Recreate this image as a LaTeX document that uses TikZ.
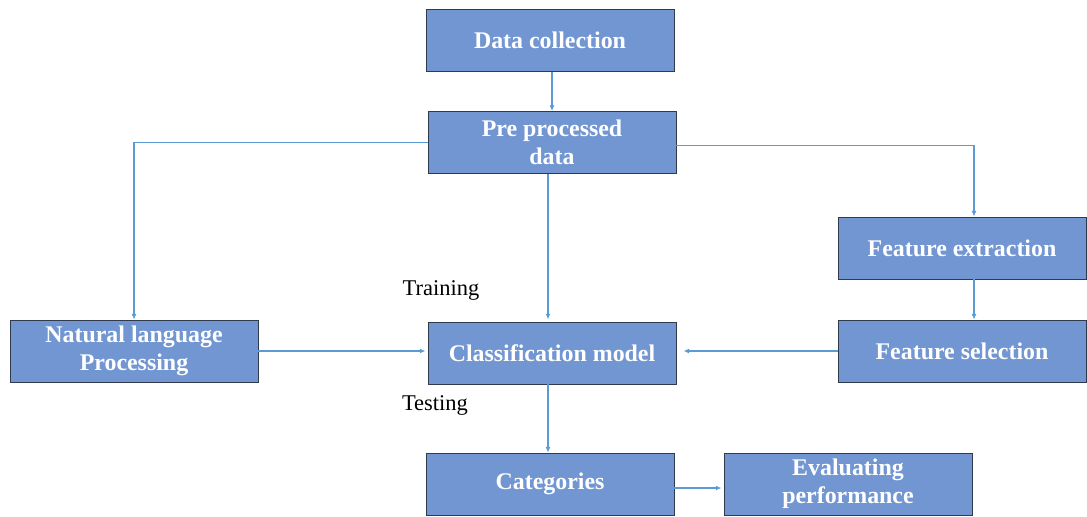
\documentclass[tikz,border=0pt]{standalone}
\usepackage{fontspec}
\setmainfont{Liberation Serif}
\usepackage{xcolor}
\usetikzlibrary{arrows.meta, positioning}
\definecolor{stageblue}{HTML}{7296D2}
\definecolor{flowblue}{HTML}{5B9BD5}
\definecolor{edgegray}{HTML}{2F3B4C}

\begin{document}
\begin{tikzpicture}[
  stagebox/.style={rectangle, draw=edgegray, line width=0.6pt, fill=stageblue, minimum width=6.2cm, minimum height=1.55cm, text=white, font=\fontsize{17}{20}\selectfont\bfseries, align=center, inner sep=0pt},
  flow/.style={-{Latex[length=4pt,width=3.5pt]}, flowblue, line width=0.8pt, shorten >=1.5pt},
  phase/.style={font=\fontsize{16}{19}\selectfont, text=black}
]
\useasboundingbox (0,0) rectangle (27.175,-12.9);
\node[stagebox] (collect) at (13.75,-1.0125) {Data collection};
\node[stagebox] (prep) at (13.8,-3.5625) {Pre processed\\data};
\node[stagebox] (extract) at (24.05,-6.2) {Feature extraction};
\node[stagebox] (select) at (24.05,-8.775) {Feature selection};
\node[stagebox] (nlp) at (3.35,-8.775) {Natural language\\Processing};
\node[stagebox] (classify) at (13.8,-8.825) {Classification model};
\node[stagebox] (categ) at (13.75,-12.1) {Categories};
\node[stagebox] (evaluate) at (21.2,-12.1) {Evaluating\\performance};

\node[phase] (train) at (11.025,-7.25) {Training};
\node[phase] (test) at (10.875,-10.125) {Testing};

\draw[flow, shorten >=0pt] (prep.north |- collect.south) -- (prep.north);
\draw[flow, shorten >=0pt] (prep.west) -| (nlp.north);
\draw[flow, shorten >=0pt] ([yshift=-2pt]prep.east) -| ([xshift=0.3cm]extract.north);
\draw[flow, shorten >=0pt] ([xshift=0.3cm]extract.south) -- ([xshift=0.3cm]select.north);
\draw[flow] ([xshift=-0.1cm]prep.south) -- ([xshift=-0.1cm]classify.north);
\draw[flow] (nlp.east) -- (nlp.east -| classify.west);
\draw[flow, shorten >=5pt] (select.west) -- (select.west -| classify.east);
\draw[flow, shorten >=0pt] ([xshift=-0.1cm]classify.south) -- ([xshift=-0.1cm]classify.south |- categ.north);
\draw[flow] ([yshift=-0.1cm]categ.east) -- ([yshift=-0.1cm]categ.east -| evaluate.west);
\end{tikzpicture}
\end{document}
